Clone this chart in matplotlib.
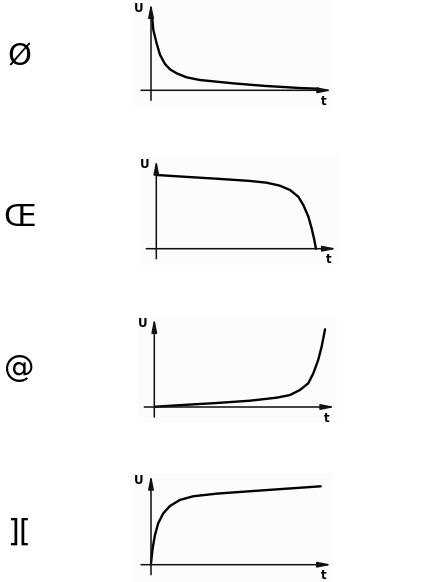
import matplotlib
matplotlib.use("Agg")
import matplotlib.pyplot as plt

# left-hand symbols, one per panel
labels = ["Ø", "Œ", "@", "]["]

# curves, normalised: t from 0 (origin) to 1 (arrow tip), U the same
t1 = [0.004, 0.013, 0.031, 0.050, 0.077, 0.105, 0.142, 0.197, 0.271, 0.363, 0.455, 0.547, 0.639, 0.731, 0.823, 0.924]
u1 = [0.885, 0.693, 0.540, 0.406, 0.303, 0.241, 0.195, 0.149, 0.118, 0.099, 0.080, 0.064, 0.049, 0.038, 0.026, 0.018]

t2 = [0.002, 0.149, 0.335, 0.519, 0.612, 0.686, 0.741, 0.787, 0.815, 0.843, 0.861, 0.876, 0.885]
u2 = [0.831, 0.812, 0.789, 0.764, 0.744, 0.710, 0.662, 0.586, 0.493, 0.361, 0.230, 0.098, 0.0]

t3 = [0.004, 0.160, 0.345, 0.529, 0.677, 0.751, 0.806, 0.852, 0.880, 0.907, 0.926, 0.945]
u3 = [0.003, 0.023, 0.045, 0.071, 0.105, 0.135, 0.192, 0.267, 0.380, 0.530, 0.680, 0.876]

t4 = [0.0, 0.009, 0.022, 0.040, 0.068, 0.105, 0.160, 0.234, 0.363, 0.548, 0.732, 0.939]
u4 = [0.016, 0.183, 0.331, 0.462, 0.573, 0.655, 0.722, 0.763, 0.792, 0.819, 0.845, 0.874]

curves = [(t1, u1), (t2, u2), (t3, u3), (t4, u4)]

W, H = 439, 582

# panel geometry in image pixels: box (l, t, r, b), origin (x, y), scale (t, U)
panels = [
    ((133, 0, 333, 107), (151.0, 90.3), (181.0, 87.0)),
    ((138, 157, 338, 265), (156.3, 248.7), (180.4, 88.7)),
    ((137, 317, 337, 423), (154.3, 407.0), (180.7, 88.7)),
    ((133, 473, 333, 582), (151.0, 564.7), (180.7, 89.7)),
]
label_pos = [(19, 57), (20, 218), (19, 368), (19, 532)]

fig = plt.figure(figsize=(W / 100, H / 100), dpi=100)
fig.patch.set_facecolor("white")

for (box, origin, scale), (t, u), lab, lp in zip(panels, curves, labels, label_pos):
    l, tp, r, b = box
    ox, oy = origin
    ts, us = scale
    ax = fig.add_axes([l / W, 1 - b / H, (r - l) / W, (b - tp) / H])
    ax.set_facecolor("#fcfcfc")
    ax.set_xlim((l - ox) / ts, (r - ox) / ts)
    ax.set_ylim((oy - b) / us, (oy - tp) / us)
    for s in ax.spines.values():
        s.set_visible(False)
    ax.set_xticks([])
    ax.set_yticks([])

    arrow = dict(arrowstyle="-|>,head_length=0.8,head_width=0.16", lw=1.1,
                 color="#111111", shrinkA=0, shrinkB=0)
    ax.annotate("", xy=(1, 0), xytext=(-10 / ts, 0), arrowprops=arrow)
    ax.annotate("", xy=(0, 1), xytext=(0, -10 / us), arrowprops=arrow)

    ax.plot(t, u, color="black", lw=1.7, solid_capstyle="round")

    ax.annotate("U", xy=(0, 1), xytext=(-12, -5), textcoords="offset pixels",
                ha="center", va="center", fontsize=8.5, fontweight="bold")
    ax.annotate("t", xy=(1, 0), xytext=(-8, -11), textcoords="offset pixels",
                ha="center", va="center", fontsize=8.5, fontweight="bold",
                annotation_clip=False)

    fig.text(lp[0] / W, 1 - lp[1] / H, lab, ha="center", va="center", fontsize=22)

fig.savefig("out.png", dpi=100, facecolor="white")
